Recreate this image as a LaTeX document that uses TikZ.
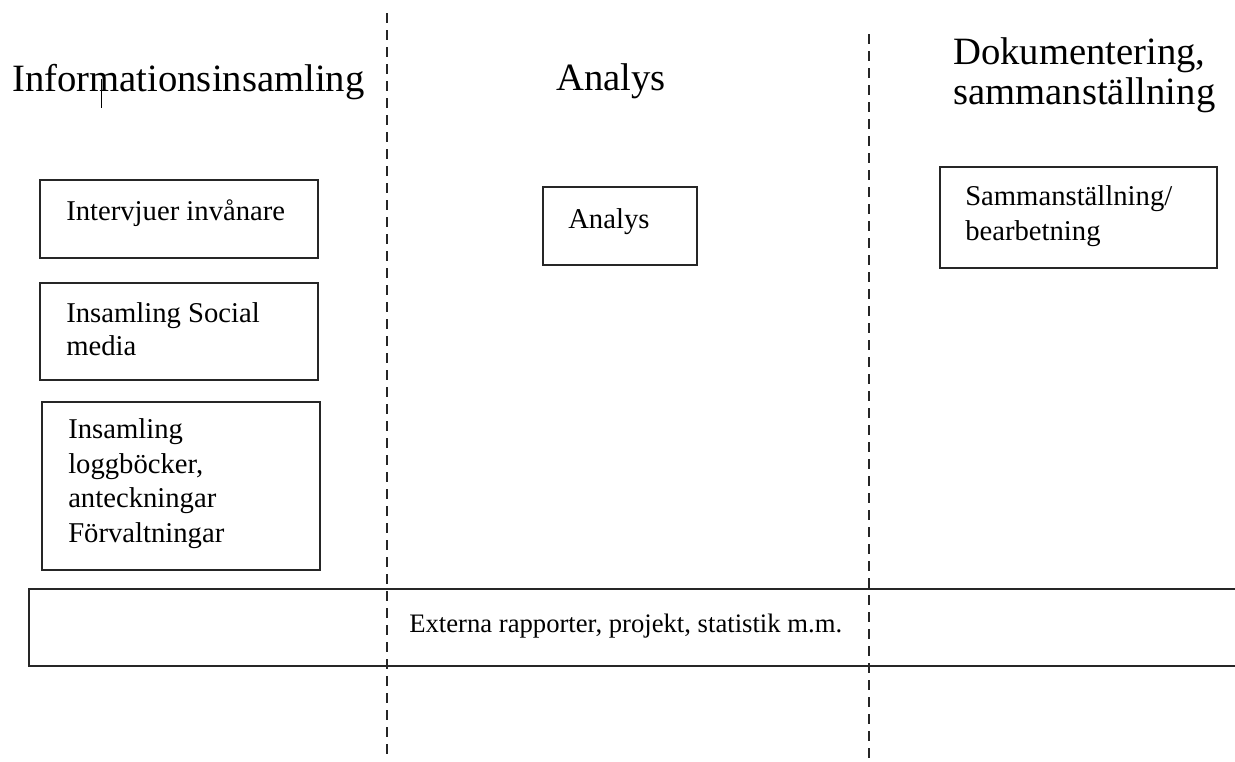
\documentclass[tikz,border=0pt]{standalone}
\usepackage{fontspec}
\setmainfont{Liberation Serif}
\usetikzlibrary{fit}
\begin{document}
\begin{tikzpicture}[x=0.75pt,y=-0.75pt,
  box/.style={draw=black!85,line width=1.7pt,inner sep=0pt,rectangle},
  title/.style={anchor=base west,inner sep=0pt,font=\fontsize{29}{29.5}\selectfont,align=left},
  btext/.style={anchor=base west,inner sep=0pt,font=\fontsize{21.5}{25.8}\selectfont,align=left},
  divider/.style={line width=1.7pt,draw=black!85,dash pattern=on 7.5pt off 5.25pt}]
\useasboundingbox (0,0) rectangle (1235,761);
% dividers
\coordinate (d1t) at (387,13);
\coordinate (d1b) at (387,761);
\coordinate (d2t) at (869,34);
\coordinate (d2b) at (869,761);
% titles (anchor = baseline of last line)
\node[title] (t1) at (12,91) {Informationsinsamling};
\node[title] (t2) at (556,90) {Analys};
\node[title] (t3) at (953,104) {Dokumentering,\\sammanställning};
\coordinate (c1) at (101,79);
\coordinate (c2) at (101,108);
\draw[line width=0.75pt] (c1) -- (c2);
% boxes
\node[box,fit={(40,180) (318,258)}] (b1) {};
\node[btext] (l1) at (66,220) {Intervjuer invånare};
\node[box,fit={(40,283) (318,380)}] (b2) {};
\node[btext,font=\fontsize{21.5}{24.5}\selectfont] (l2) at (66,355) {Insamling Social\\media};
\node[box,fit={(42,402) (320,570)}] (b3) {};
\node[btext] (l3) at (68,542) {Insamling\\loggböcker,\\anteckningar\\Förvaltningar};
\node[box,fit={(543,187) (697,265)}] (b4) {};
\node[btext] (l4) at (568,228) {Analys};
\node[box,fit={(940,167) (1217,268)}] (b5) {};
\node[btext] (l5) at (965,240) {Sammanställning/\\bearbetning};
\node[box,fit={(29,589) (1250,666)}] (b6) {};
\node[anchor=base west,inner sep=0pt,font=\fontsize{20}{24}\selectfont] (l6) at (409,632) {Externa rapporter, projekt, statistik m.m.};
\draw[divider] (d1t) -- (d1b);
\draw[divider] (d2t) -- (d2b);
\end{tikzpicture}
\end{document}
